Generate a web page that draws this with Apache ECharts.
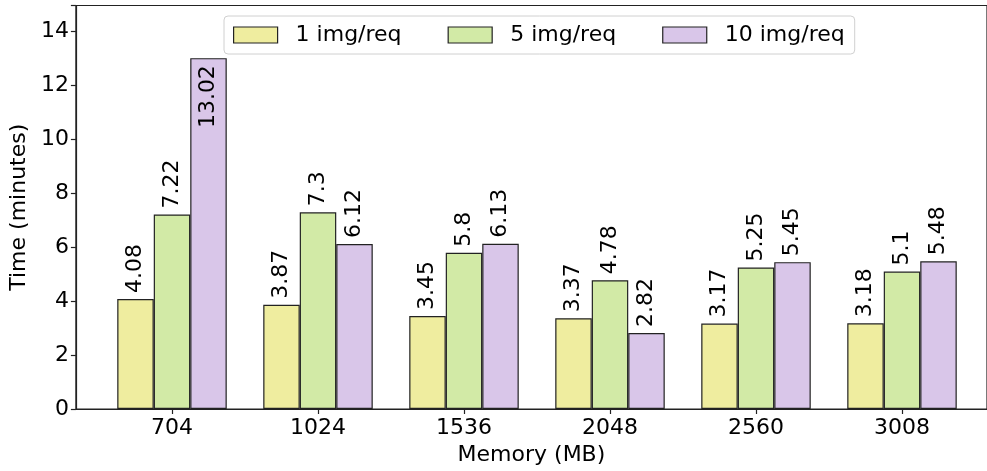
<!DOCTYPE html>
<html>
<head>
<meta charset="utf-8">
<script src="https://cdn.jsdelivr.net/npm/echarts@6/dist/echarts.min.js"></script>
<style>
html,body{margin:0;padding:0;background:#fff;}
#chart{width:987px;height:471px;}
</style>
</head>
<body>
<div id="chart"></div>
<script>
const categories = ['704', '1024', '1536', '2048', '2560', '3008'];
const seriesNames = ['1 img/req', '5 img/req', '10 img/req'];
const oneImg = [4.08, 3.87, 3.45, 3.37, 3.17, 3.18];
const fiveImg = [7.22, 7.3, 5.8, 4.78, 5.25, 5.1];
const tenImg = [13.02, 6.12, 6.13, 2.82, 5.45, 5.48];
const colors = ['#EFED9F', '#D2EAA6', '#D9C6E9'];
const yMax = 14.973;

const FONT = 'DejaVu Sans';
const FS = 22;

function makeData(arr) {
  return arr.map(v => {
    if (v > 12) {
      return {
        value: v,
        label: { position: 'insideTop', align: 'right', distance: 7 }
      };
    }
    return v;
  });
}

const chart = echarts.init(document.getElementById('chart'), null, { renderer: 'canvas' });
const valuesList = [oneImg, fiveImg, tenImg];

const option = {
  animation: false,
  backgroundColor: '#fff',
  textStyle: { fontFamily: FONT },
  grid: [
    { left: 75, right: -11.5, top: 5.5, bottom: 62, show: true, borderColor: '#222', borderWidth: 1.2, backgroundColor: 'transparent' },
    { left: 99, width: 876, top: 5.5, bottom: 62 }
  ],
  legend: {
    data: seriesNames.map(n => ({ name: n, icon: 'rect' })),
    left: 224,
    top: 16,
    itemWidth: 44,
    itemHeight: 16,
    itemGap: 46,
    padding: [8, 10, 8, 9],
    backgroundColor: '#fff',
    borderColor: '#d0d0d0',
    borderWidth: 1,
    borderRadius: 4,
    textStyle: { fontFamily: FONT, fontSize: FS, color: '#000', padding: [0, 0, 0, 13] },
    itemStyle: { borderColor: '#222', borderWidth: 1.2 }
  },
  xAxis: [
    {
      type: 'value', gridIndex: 0, min: 0, max: 1,
      name: 'Memory (MB)', nameLocation: 'middle', nameGap: 35,
      nameTextStyle: { fontFamily: FONT, fontSize: FS, color: '#000' },
      axisLine: { show: true, lineStyle: { color: '#222', width: 1.2 } },
      axisTick: { show: false }, axisLabel: { show: false }, splitLine: { show: false }
    },
    {
      type: 'category', gridIndex: 1, data: categories,
      axisLine: { show: false },
      axisTick: { show: true, alignWithLabel: true, length: 5, lineStyle: { color: '#222', width: 1.2 } },
      axisLabel: { fontFamily: FONT, fontSize: FS, color: '#000', margin: 8 },
      splitLine: { show: false }
    }
  ],
  yAxis: [
    {
      type: 'value', gridIndex: 0, min: 0, max: yMax, interval: 2,
      name: 'Time (minutes)', nameLocation: 'middle', nameGap: 43,
      nameTextStyle: { fontFamily: FONT, fontSize: FS, color: '#000' },
      axisLine: { show: true, lineStyle: { color: '#222', width: 1.2 } },
      axisTick: { show: true, length: 5, lineStyle: { color: '#222', width: 1.2 } },
      axisLabel: { fontFamily: FONT, fontSize: FS, color: '#000', margin: 7,
        formatter: v => (v > 14.5 ? '' : String(v)) },
      splitLine: { show: false }
    },
    {
      type: 'value', gridIndex: 1, min: 0, max: yMax, show: false
    }
  ],
  series: seriesNames.map((name, i) => ({
    name: name,
    type: 'bar',
    xAxisIndex: 1,
    yAxisIndex: 1,
    barWidth: 36.5,
    barGap: '0%',
    data: makeData(valuesList[i]),
    itemStyle: { color: colors[i], borderColor: '#222', borderWidth: 1.2 },
    label: {
      show: true,
      position: 'top',
      rotate: 90,
      align: 'left',
      verticalAlign: 'middle',
      distance: 6,
      fontFamily: FONT,
      fontSize: FS,
      color: '#000'
    }
  }))
};
chart.setOption(option);
</script>
</body>
</html>
